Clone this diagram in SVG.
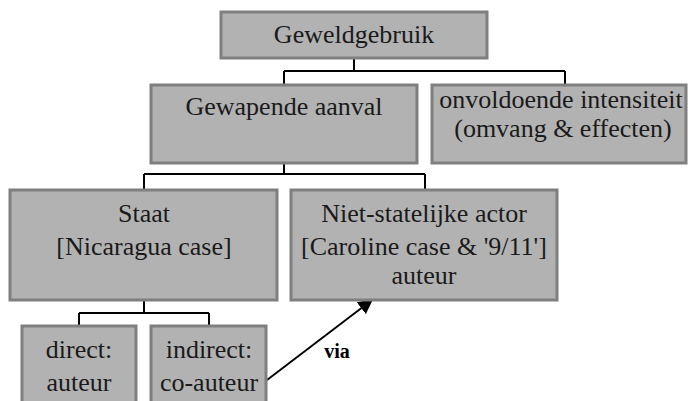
<svg xmlns="http://www.w3.org/2000/svg" width="688" height="401" viewBox="0 0 688 401">
  <defs>
    <style>
      .box { fill: #b2b2b2; stroke: #7f7f7f; stroke-width: 3; }
      .lbl { font-family: "Liberation Serif", serif; font-size: 26px; fill: #1a1a1a; text-anchor: middle; }
      .edge { fill: none; stroke: #000; stroke-width: 2; }
      .via { font-family: "Liberation Serif", serif; font-size: 20px; font-weight: bold; fill: #000; text-anchor: middle; }
    </style>
    <marker id="arrow" viewBox="0 0 10 10" refX="9" refY="5" markerWidth="7.5" markerHeight="7.5" markerUnits="strokeWidth" orient="auto">
      <path d="M0,0 L10,5 L0,10 z" fill="#000"/>
    </marker>
  </defs>
  <rect width="688" height="401" fill="#fff"/>

  <g id="connectors">
    <path class="edge" d="M354,58 V71 M284,71 H565 M284,71 V85 M565,71 V85"/>
    <path class="edge" d="M284,163 V174 M144,174 H425 M144,174 V190 M425,174 V190"/>
    <path class="edge" d="M144,300 V313 M79,313 H209 M79,313 V326 M209,313 V326"/>
    <path class="edge" d="M267,380 L372,300" marker-end="url(#arrow)"/>
    <text class="via" x="337" y="358">via</text>
  </g>

  <g id="geweldgebruik">
    <rect class="box" x="221" y="12" width="266" height="46"/>
    <text class="lbl" x="354" y="43">Geweldgebruik</text>
  </g>

  <g id="gewapende-aanval">
    <rect class="box" x="151" y="85" width="266" height="78"/>
    <text class="lbl" x="284" y="115">Gewapende aanval</text>
  </g>

  <g id="onvoldoende-intensiteit">
    <rect class="box" x="432" y="85" width="254" height="78"/>
    <text class="lbl" x="561" y="108">onvoldoende intensiteit</text>
    <text class="lbl" x="563" y="137">(omvang &amp; effecten)</text>
  </g>

  <g id="staat">
    <rect class="box" x="10" y="190" width="267" height="110"/>
    <text class="lbl" x="144" y="222">Staat</text>
    <text class="lbl" x="144" y="255">[Nicaragua case]</text>
  </g>

  <g id="niet-statelijke-actor">
    <rect class="box" x="291" y="190" width="266" height="110"/>
    <text class="lbl" x="424" y="222">Niet-statelijke actor</text>
    <text class="lbl" x="424" y="255">[Caroline case &amp; '9/11']</text>
    <text class="lbl" x="424" y="284">auteur</text>
  </g>

  <g id="direct">
    <rect class="box" x="22" y="326" width="114" height="90"/>
    <text class="lbl" x="79" y="358">direct:</text>
    <text class="lbl" x="79" y="391">auteur</text>
  </g>

  <g id="indirect">
    <rect class="box" x="151" y="326" width="115" height="90"/>
    <text class="lbl" x="209" y="358">indirect:</text>
    <text class="lbl" x="209" y="391">co-auteur</text>
  </g>
</svg>
